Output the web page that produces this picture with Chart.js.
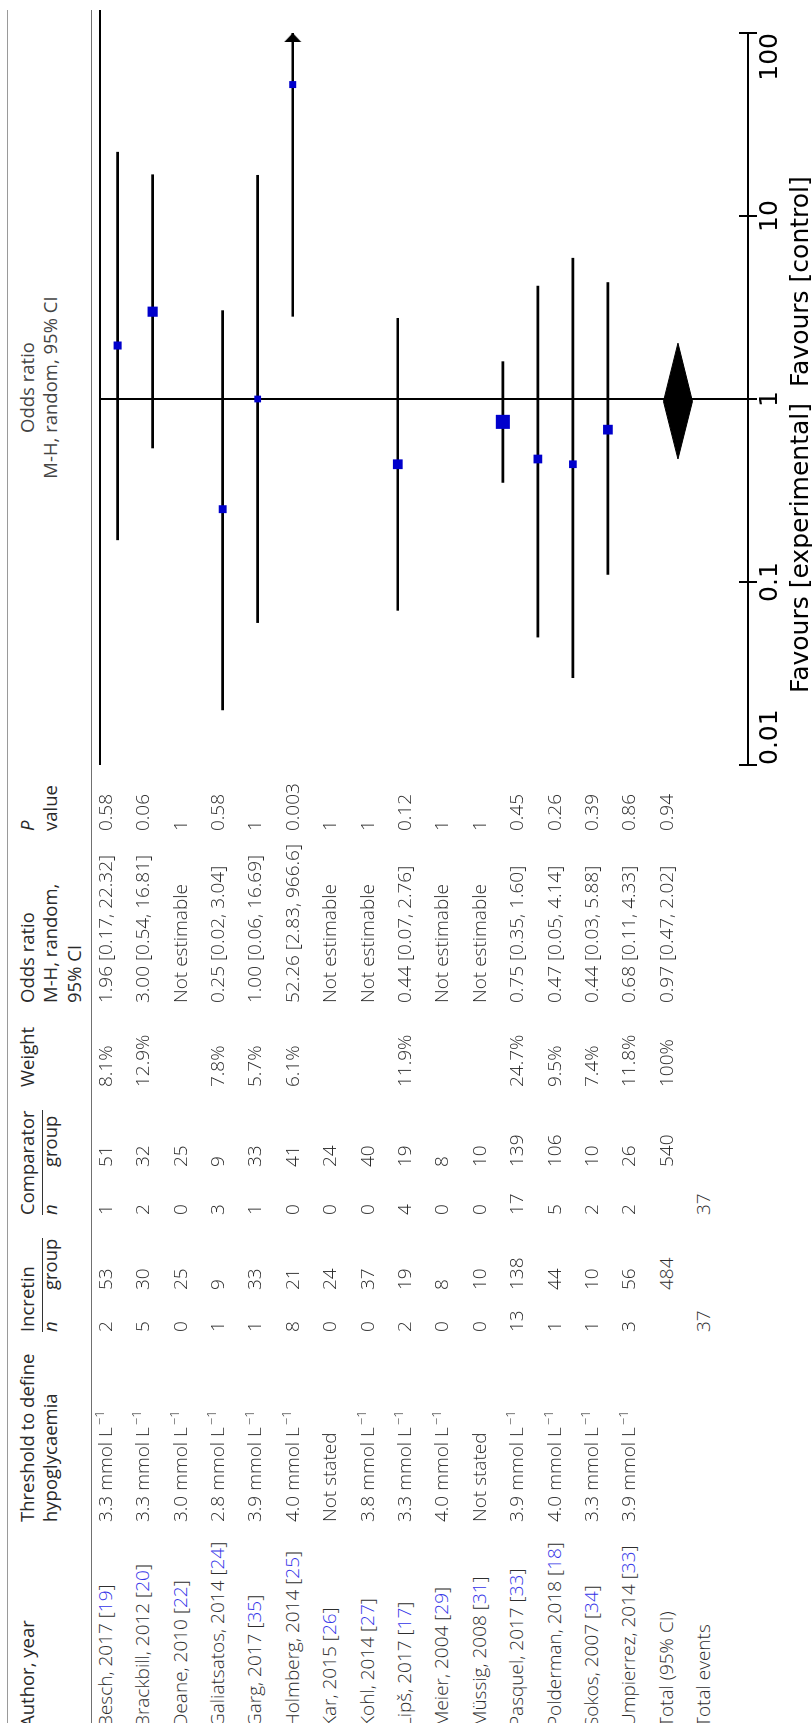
<!DOCTYPE html>
<html>
<head>
<meta charset="utf-8">
<script src="https://cdn.jsdelivr.net/npm/chart.js@4.4.1/dist/chart.umd.min.js"></script>
<style>
  html, body { margin: 0; padding: 0; background: #fff; }
  body { width: 812px; height: 1723px; overflow: hidden; position: relative; }
  /* the table is laid out in landscape and turned a quarter turn */
  #sheet {
    position: absolute; left: 0; top: 0; width: 1723px; height: 812px;
    transform-origin: 0 0; transform: translate(0, 1723px) rotate(-90deg);
    font-family: "Open Sans", sans-serif; color: #333;
  }
  .t { position: absolute; white-space: nowrap; }
  .hd { font-size: 18.5px; font-weight: 400; line-height: 23.5px; color: #2a2a2a; }
  .cell { font-size: 19px; font-weight: 300; line-height: 37.4px; height: 37.4px; color: #2e2e2e; }
  .ref { color: #3535e8; }
  .rule { position: absolute; }
  sup { font-size: 0.68em; line-height: 0; vertical-align: 0.6em; margin-left: 2px; }
  i { font-style: italic; }
</style>
</head>
<body>
<div id="sheet">
  <div class="rule" style="left:0;top:7px;width:1713px;height:1px;background:#9a9a9a"></div>
  <div class="rule" style="left:0;top:90.5px;width:1713px;height:1px;background:#707070"></div>
  <div class="rule" style="left:391px;top:42px;width:94px;height:1px;background:#333"></div>
  <div class="rule" style="left:508px;top:42px;width:105px;height:1px;background:#333"></div>
  <div class="rule" style="left:958px;top:98.5px;width:755px;height:2px;background:#000"></div>

  <div class="t hd" style="left:-4px;top:14.5px">Author, year</div>
  <div class="t hd" style="left:201px;top:14.5px">Threshold to define<br>hypoglycaemia</div>
  <div class="t hd" style="left:391px;top:14.5px">Incretin</div>
  <div class="t hd" style="left:391px;top:38px"><i>n</i></div>
  <div class="t hd" style="left:433px;top:38px">group</div>
  <div class="t hd" style="left:508px;top:14.5px">Comparator</div>
  <div class="t hd" style="left:508px;top:38px"><i>n</i></div>
  <div class="t hd" style="left:556px;top:38px">group</div>
  <div class="t hd" style="left:636px;top:14.5px">Weight</div>
  <div class="t hd" style="left:720px;top:14.5px">Odds ratio<br>M-H, random,<br>95% CI</div>
  <div class="t hd" style="left:892px;top:14.5px"><i>P</i><br>value</div>
  <div class="t hd" style="left:958px;top:14.5px;width:755px;text-align:center;color:#444">Odds ratio<br>M-H, random, 95% CI</div>

  <div id="plotBox" style="position:absolute;left:900px;top:90px;width:823px;height:722px">
    <canvas id="forest"></canvas>
  </div>
</div>

<script>
// Studies of incretin therapy vs comparator: hypoglycaemia events
const authors = ['Besch, 2017', 'Brackbill, 2012', 'Deane, 2010', 'Galiatsatos, 2014', 'Garg, 2017',
  'Holmberg, 2014', 'Kar, 2015', 'Kohl, 2014', 'Lipš, 2017', 'Meier, 2004', 'Müssig, 2008',
  'Pasquel, 2017', 'Polderman, 2018', 'Sokos, 2007', 'Umpierrez, 2014'];
const refs = [19, 20, 22, 24, 35, 25, 26, 27, 17, 29, 31, 33, 18, 34, 33];
const thresholds = [3.3, 3.3, 3.0, 2.8, 3.9, 4.0, null, 3.8, 3.3, 4.0, null, 3.9, 4.0, 3.3, 3.9];
const incretinEvents = [2, 5, 0, 1, 1, 8, 0, 0, 2, 0, 0, 13, 1, 1, 3];
const incretinTotal = [53, 30, 25, 9, 33, 21, 24, 37, 19, 8, 10, 138, 44, 10, 56];
const comparatorEvents = [1, 2, 0, 3, 1, 0, 0, 0, 4, 0, 0, 17, 5, 2, 2];
const comparatorTotal = [51, 32, 25, 9, 33, 41, 24, 40, 19, 8, 10, 139, 106, 10, 26];
const weights = [8.1, 12.9, null, 7.8, 5.7, 6.1, null, null, 11.9, null, null, 24.7, 9.5, 7.4, 11.8];
const oddsRatio = [1.96, 3.00, null, 0.25, 1.00, 52.26, null, null, 0.44, null, null, 0.75, 0.47, 0.44, 0.68];
const ciLow = [0.17, 0.54, null, 0.02, 0.06, 2.83, null, null, 0.07, null, null, 0.35, 0.05, 0.03, 0.11];
const ciHigh = [22.32, 16.81, null, 3.04, 16.69, 966.6, null, null, 2.76, null, null, 1.60, 4.14, 5.88, 4.33];
const pValues = [0.58, 0.06, 1, 0.58, 1, 0.003, 1, 1, 0.12, 1, 1, 0.45, 0.26, 0.39, 0.86];

// pooled result
const totalIncretin = 484;
const totalComparator = 540;
const totalWeight = 100;
const totalOR = 0.97;
const totalLow = 0.47;
const totalHigh = 2.02;
const totalP = 0.94;
const totalEventsIncretin = 37;
const totalEventsComparator = 37;

// odds ratio axis
const tickValues = [0.01, 0.1, 1, 10, 100];
const tickLabels = ['0.01', '0.1', '1', '10', '100'];
const axisMin = tickValues[0];
const axisMax = tickValues[tickValues.length - 1];

// ---------- table text ----------
const sheet = document.getElementById('sheet');
const col = { author: -4, threshold: 201, incN: 391, incGroup: 433, compN: 508, compGroup: 556, weight: 636, or: 720, p: 892 };
const rowTop = k => 86.7 + 37.4 * k;

function put(html, x, k) {
  const d = document.createElement('div');
  d.className = 't cell';
  d.style.left = x + 'px';
  d.style.top = rowTop(k) + 'px';
  d.innerHTML = html;
  sheet.appendChild(d);
}
const fmt = v => (v >= 100 ? v.toFixed(1) : v.toFixed(2));
const orText = (o, l, h) => `${fmt(o)} [${fmt(l)}, ${fmt(h)}]`;

authors.forEach((a, i) => {
  put(`${a} [<span class="ref">${refs[i]}</span>]`, col.author, i);
  put(thresholds[i] == null ? 'Not stated' : `${thresholds[i].toFixed(1)} mmol L<sup>−1</sup>`, col.threshold, i);
  put(String(incretinEvents[i]), col.incN, i);
  put(String(incretinTotal[i]), col.incGroup, i);
  put(String(comparatorEvents[i]), col.compN, i);
  put(String(comparatorTotal[i]), col.compGroup, i);
  if (weights[i] != null) put(weights[i] + '%', col.weight, i);
  put(oddsRatio[i] == null ? 'Not estimable' : orText(oddsRatio[i], ciLow[i], ciHigh[i]), col.or, i);
  put(String(pValues[i]), col.p, i);
});
const kTotal = authors.length;
put('Total (95% CI)', col.author, kTotal);
put(String(totalIncretin), col.incGroup, kTotal);
put(String(totalComparator), col.compGroup, kTotal);
put(totalWeight + '%', col.weight, kTotal);
put(orText(totalOR, totalLow, totalHigh), col.or, kTotal);
put(String(totalP), col.p, kTotal);
put('Total events', col.author, kTotal + 1);
put(String(totalEventsIncretin), col.incN, kTotal + 1);
put(String(totalEventsComparator), col.compN, kTotal + 1);

// ---------- forest plot ----------
const ciData = [], squareData = [], squareRadius = [], arrowData = [];
authors.forEach((a, i) => {
  if (oddsRatio[i] == null) return;
  ciData.push({ x: [ciLow[i], ciHigh[i]], y: i });
  squareData.push({ x: oddsRatio[i], y: i });
  squareRadius.push(2.0 * Math.sqrt(weights[i]));   // box area follows the weight
  if (ciHigh[i] > axisMax) arrowData.push({ x: axisMax, y: i });
});

// pooled diamond sits one blank slot below the last study
const poolRow = authors.length + 1;
const halfH = 0.414;
const diamond = [
  { x: totalLow, y: poolRow }, { x: totalOR, y: poolRow - halfH },
  { x: totalHigh, y: poolRow }, { x: totalOR, y: poolRow + halfH },
  { x: totalLow, y: poolRow }
];

// arrow head whose tip is the point's centre
function arrowHead() {
  const c = document.createElement('canvas');
  c.width = 20; c.height = 18;
  const g = c.getContext('2d');
  g.fillStyle = '#000';
  g.beginPath(); g.moveTo(10, 9); g.lineTo(1, 0.5); g.lineTo(1, 17.5); g.closePath(); g.fill();
  return c;
}

const axisDecor = {
  id: 'axisDecor',
  afterDraw(chart) {
    const { ctx, chartArea, scales: { x } } = chart;
    ctx.save();
    ctx.strokeStyle = '#000';
    ctx.lineWidth = 2;
    x.ticks.forEach(t => {
      const px = x.getPixelForValue(t.value);
      ctx.beginPath();
      ctx.moveTo(px, chartArea.bottom - 9);
      ctx.lineTo(px, chartArea.bottom);
      ctx.stroke();
    });
    const one = x.getPixelForValue(1);
    const base = chartArea.bottom + 60;
    ctx.fillStyle = '#000';
    ctx.font = '25px "DejaVu Sans"';
    ctx.textBaseline = 'alphabetic';
    ctx.textAlign = 'right';
    ctx.fillText('Favours [experimental]', one - 4, base);
    ctx.textAlign = 'left';
    ctx.fillText('Favours [control]', one + 12, base);
    ctx.restore();
  }
};

new Chart(document.getElementById('forest'), {
  type: 'scatter',
  data: {
    datasets: [
      { type: 'scatter', data: squareData, pointStyle: 'rect', pointRadius: squareRadius,
        pointHoverRadius: squareRadius, backgroundColor: '#0000cc', borderWidth: 0 },
      { type: 'scatter', data: arrowData, pointStyle: arrowHead(), clip: false },
      { type: 'line', data: diamond, fill: 'shape', backgroundColor: '#000', borderColor: '#000',
        borderWidth: 1, pointRadius: 0, tension: 0 },
      { type: 'bar', indexAxis: 'y', data: ciData, barThickness: 2, backgroundColor: '#000', borderWidth: 0 }
    ]
  },
  options: {
    responsive: true,
    maintainAspectRatio: false,
    animation: false,
    devicePixelRatio: 1,
    events: [],
    layout: { padding: { left: 58, right: 33, top: 10.1, bottom: 0 } },
    plugins: { legend: { display: false }, tooltip: { enabled: false } },
    scales: {
      x: {
        type: 'logarithmic', min: axisMin, max: axisMax, position: 'bottom', offset: false,
        afterBuildTicks: s => { s.ticks = tickValues.map(v => ({ value: v })); },
        afterFit: s => { s.height = 64; },
        ticks: {
          callback: v => tickLabels[tickValues.indexOf(v)],
          align: 'inner', autoSkip: false, maxRotation: 0, minRotation: 0,
          padding: -2, color: '#000', font: { family: 'DejaVu Sans', size: 25 }
        },
        grid: {
          offset: false,
          color: c => (c.tick && c.tick.value === 1 ? '#000' : 'rgba(0,0,0,0)'),
          lineWidth: 2, drawTicks: true, tickLength: 9, tickWidth: 2, tickColor: '#000'
        },
        border: { display: true, color: '#000', width: 2 }
      },
      y: { type: 'linear', min: -0.5, max: 18, reverse: true, display: false, offset: false }
    }
  },
  plugins: [axisDecor]
});
</script>
</body>
</html>
